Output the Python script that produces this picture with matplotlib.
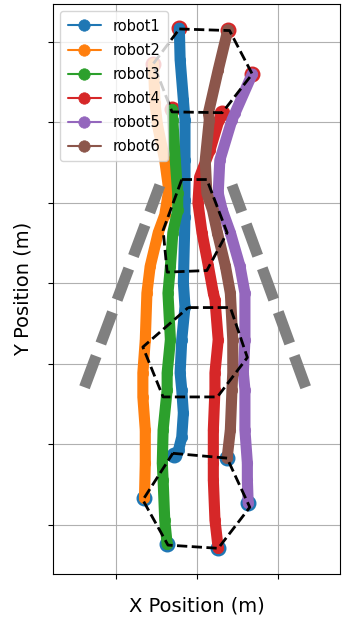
import matplotlib
matplotlib.use('Agg')
import matplotlib.pyplot as plt

# trajectories (m), top end first
robot1_x = [-0.22, -0.21, -0.17, -0.15, -0.15, -0.15, -0.15, -0.17, -0.15, -0.19, -0.21, -0.19, -0.17, -0.19, -0.23, -0.28]
robot1_y = [6.17, 5.78, 5.28, 5.03, 4.53, 4.04, 3.83, 3.01, 2.71, 2.30, 1.89, 1.68, 1.39, 1.09, 0.93, 0.87]

robot2_x = [-0.54, -0.52, -0.49, -0.40, -0.35, -0.40, -0.48, -0.58, -0.62, -0.64, -0.67, -0.67, -0.64, -0.64, -0.65]
robot2_y = [5.73, 5.24, 4.97, 4.53, 4.16, 3.85, 3.63, 3.21, 2.88, 2.30, 1.89, 1.59, 1.18, 0.77, 0.34]

robot3_x = [-0.31, -0.30, -0.27, -0.24, -0.24, -0.30, -0.33, -0.36, -0.33, -0.37, -0.37, -0.42, -0.43, -0.42, -0.40, -0.37]
robot3_y = [5.16, 5.03, 4.53, 4.12, 3.91, 3.63, 3.21, 2.88, 2.30, 1.89, 1.68, 1.18, 0.77, 0.56, 0.06, -0.24]

robot4_x = [0.31, 0.27, 0.16, 0.03, 0.01, 0.06, 0.14, 0.20, 0.22, 0.26, 0.22, 0.22, 0.20, 0.20, 0.20, 0.22, 0.26]
robot4_y = [5.12, 5.03, 4.66, 4.32, 4.00, 3.63, 3.21, 2.88, 2.80, 2.30, 1.89, 1.68, 1.18, 0.77, 0.56, 0.06, -0.29]

robot5_x = [0.68, 0.47, 0.43, 0.28, 0.26, 0.31, 0.41, 0.53, 0.59, 0.59, 0.57, 0.59, 0.59, 0.62, 0.62, 0.63]
robot5_y = [5.60, 5.12, 5.03, 4.53, 4.12, 3.91, 3.63, 3.21, 2.88, 2.30, 1.89, 1.68, 1.18, 0.77, 0.56, 0.27]

robot6_x = [0.38, 0.26, 0.14, 0.15, 0.10, 0.12, 0.19, 0.25, 0.35, 0.41, 0.44, 0.44, 0.43, 0.41, 0.37]
robot6_y = [6.15, 5.65, 5.12, 5.03, 4.53, 4.12, 3.91, 3.63, 3.21, 2.88, 2.30, 1.89, 1.68, 1.18, 0.83]

robots = ['robot1', 'robot2', 'robot3', 'robot4', 'robot5', 'robot6']
xs = [robot1_x, robot2_x, robot3_x, robot4_x, robot5_x, robot6_x]
ys = [robot1_y, robot2_y, robot3_y, robot4_y, robot5_y, robot6_y]

# formation hexagons
hex1_x = [-0.22, 0.40, 0.68, 0.31, -0.31, -0.54]
hex1_y = [6.16, 6.14, 5.60, 5.12, 5.13, 5.73]
hex2_x = [-0.19, 0.12, 0.37, 0.12, -0.37, -0.42]
hex2_y = [4.29, 4.29, 3.63, 3.16, 3.14, 3.66]
hex3_x = [-0.11, 0.41, 0.62, 0.25, -0.42, -0.67]
hex3_y = [2.70, 2.70, 2.08, 1.59, 1.59, 2.21]
hex4_x = [-0.30, 0.37, 0.65, 0.26, -0.36, -0.67]
hex4_y = [0.89, 0.83, 0.22, -0.29, -0.25, 0.31]
hexes = [(hex1_x, hex1_y), (hex2_x, hex2_y), (hex3_x, hex3_y), (hex4_x, hex4_y)]

# funnel walls
wall_left_x = [-1.39, -0.46]
wall_left_y = [1.71, 4.22]
wall_right_x = [1.34, 0.43]
wall_right_y = [1.71, 4.22]

colors = ['C0', 'C1', 'C2', 'C3', 'C4', 'C5']

fig = plt.figure(figsize=(3.46, 6.24), dpi=100)
ax = fig.add_axes([0.153, 0.080, 0.83, 0.9136])

# start / goal points under the tracks
ax.scatter([x[0] for x in xs], [y[0] for y in ys], s=110, color='C3', zorder=1)
ax.scatter([x[-1] for x in xs], [y[-1] for y in ys], s=110, color='C0', zorder=1)

for name, x, y, c in zip(robots, xs, ys, colors):
    ax.plot(x, y, 'o-', color=c, lw=8, ms=7.5, mew=0.5, label=name, zorder=2,
            solid_capstyle='round', solid_joinstyle='round')

for hx, hy in hexes:
    ax.plot(hx + hx[:1], hy + hy[:1], '--', color='black', lw=2, zorder=3)

ax.plot(wall_left_x, wall_left_y, '--', color='gray', lw=8, dashes=(3.0, 1.2), zorder=3)
ax.plot(wall_right_x, wall_right_y, '--', color='gray', lw=8, dashes=(3.0, 1.2), zorder=3)

ax.set_xlim(-1.78, 1.765)
ax.set_ylim(-0.61, 6.47)
ax.set_xticks([-1, 0, 1])
ax.set_yticks([0, 1, 2, 3, 4, 5, 6])
ax.set_xticklabels([])
ax.set_yticklabels([])
ax.grid(True)
ax.set_axisbelow(True)

ax.set_xlabel('X Position (m)', fontsize=14, labelpad=9)
ax.set_ylabel('Y Position (m)', fontsize=14, labelpad=8)

leg = ax.legend(loc='upper left', fontsize=10.5, markerscale=1.1, handlelength=2.3,
                labelspacing=0.62, borderpad=0.5)
for h in leg.get_lines():
    h.set_linewidth(1.5)
leg.set_zorder(5)

fig.savefig('out.png', dpi=100)
